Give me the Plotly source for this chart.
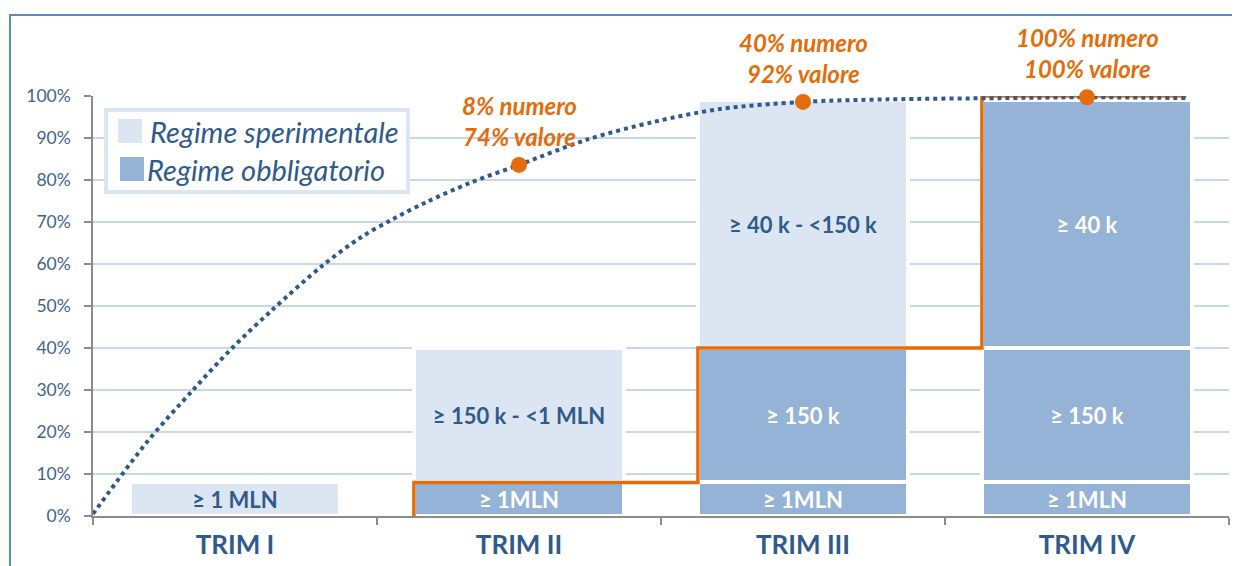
import plotly.graph_objects as go

# ---------------- data ----------------
categories = ["TRIM I", "TRIM II", "TRIM III", "TRIM IV"]

tier_1mln = [8, 8, 8, 8]
tier_150k = [0, 32, 32, 32]
tier_40k = [0, 0, 59, 59]

regime_1mln = ["S", "O", "O", "O"]
regime_150k = ["S", "S", "O", "O"]
regime_40k = ["S", "S", "S", "O"]

text_1mln = ["≥ 1 MLN", "≥ 1MLN", "≥ 1MLN", "≥ 1MLN"]
text_150k = ["", "≥ 150 k - <1 MLN", "≥ 150 k", "≥ 150 k"]
text_40k = ["", "", "≥ 40 k - <150 k", "≥ 40 k"]

# obligatory share level per quarter (orange step)
step_levels = [0, 8, 40, 100]

# dotted curve (value coverage), x in category units
curve_x = [-0.5, -0.31, -0.148, -0.01, 0.13, 0.306, 0.44, 0.556, 0.676, 0.827, 1.0,
           1.239, 1.472, 1.708, 2.0, 2.3, 2.7, 3.0, 3.35]
curve_y = [0.5, 17.6, 30, 40, 49, 59.5, 66.2, 70.7, 74.8, 79.3, 83.6,
           89.6, 93.8, 96.9, 98.6, 99.2, 99.5, 99.7, 99.5]

marker_x = [1, 2, 3]
marker_y = [83.6, 98.6, 99.7]
marker_labels = ["8% numero<br>74% valore", "40% numero<br>92% valore", "100% numero<br>100% valore"]

legend_labels = ["Regime sperimentale", "Regime obbligatorio"]

# ---------------- styles ----------------
LIGHT = "#DCE6F2"
DARK = "#95B3D7"
TXT_DARK = "#2F5A8C"
ORANGE = "#E46C0A"
FONT = "Lato"
BAR_W = 0.74

color_of = {"S": LIGHT, "O": DARK}
txtcol_of = {"S": TXT_DARK, "O": "white"}

xpos = list(range(len(categories)))

fig = go.Figure()

for vals, reg, txt in [(tier_1mln, regime_1mln, text_1mln),
                       (tier_150k, regime_150k, text_150k),
                       (tier_40k, regime_40k, text_40k)]:
    fig.add_trace(go.Bar(
        x=xpos, y=vals, width=BAR_W,
        marker=dict(color=[color_of[r] for r in reg], line=dict(color="white", width=4)),
        text=txt, textposition="inside", insidetextanchor="middle", textangle=0,
        constraintext="none",
        textfont=dict(family=FONT, size=22, color=[txtcol_of[r] for r in reg], weight="bold"),
        showlegend=False, hoverinfo="skip",
    ))

# orange step line built from step levels and bar edges
half = BAR_W / 2
sx, sy = [], []
for i in range(1, len(step_levels)):
    xl = xpos[i] - half
    sx += [xl, xl]
    sy += [step_levels[i - 1], step_levels[i]]
sx.append(xpos[-1] + half - 0.02)
sy.append(step_levels[-1])
fig.add_trace(go.Scatter(x=sx, y=sy, mode="lines", line=dict(color=ORANGE, width=3.5),
                         showlegend=False, hoverinfo="skip", cliponaxis=False))

fig.add_trace(go.Scatter(x=curve_x, y=curve_y, mode="lines",
                         line=dict(color=TXT_DARK, width=4, dash="4px,4px",
                                   shape="spline", smoothing=0.9),
                         showlegend=False, hoverinfo="skip", cliponaxis=False))

fig.add_trace(go.Scatter(x=marker_x, y=marker_y, mode="markers",
                         marker=dict(color=ORANGE, size=16),
                         showlegend=False, hoverinfo="skip", cliponaxis=False))

for mx, my, lab in zip(marker_x, marker_y, marker_labels):
    fig.add_annotation(x=mx, y=my, text=lab, showarrow=False, yanchor="bottom", yshift=12,
                       font=dict(family=FONT, size=24, color=ORANGE, weight="bold", style="italic"))

# geometry (the page body adds an 8px offset)
OFF = 8
W, H = 1232, 558
L, T = 93 - OFF, 96 - OFF
R = W - (1229 - OFF)
B = H - (516 - OFF)
PW, PH = W - L - R, H - T - B
def px(x):
    return (x - OFF - L) / PW
def py(y):
    return (H - B - (y - OFF)) / PH

# outer frame
fig.add_shape(type="rect", xref="paper", yref="paper", x0=px(10), x1=px(1260), y0=py(590), y1=py(15),
              line=dict(color="#5B8AC6", width=2), fillcolor="rgba(0,0,0,0)", layer="below")

# custom legend
fig.add_shape(type="rect", xref="paper", yref="paper", x0=px(106), x1=px(408), y0=py(192), y1=py(110),
              line=dict(color=LIGHT, width=4), fillcolor="white", layer="above")
fig.add_shape(type="rect", xref="paper", yref="paper", x0=px(118), x1=px(142), y0=py(143), y1=py(119),
              line=dict(width=0), fillcolor=LIGHT, layer="above")
fig.add_shape(type="rect", xref="paper", yref="paper", x0=px(120), x1=px(144), y0=py(181), y1=py(157),
              line=dict(width=0), fillcolor=DARK, layer="above")
fig.add_annotation(xref="paper", yref="paper", x=px(148), y=py(131), text=legend_labels[0],
                   showarrow=False, xanchor="left", yanchor="middle",
                   font=dict(family=FONT, size=29, color=TXT_DARK, style="italic"))
fig.add_annotation(xref="paper", yref="paper", x=px(145), y=py(169), text=legend_labels[1],
                   showarrow=False, xanchor="left", yanchor="middle",
                   font=dict(family=FONT, size=29, color=TXT_DARK, style="italic"))

fig.update_layout(
    width=W, height=H,
    margin=dict(l=L, r=R, t=T, b=B, autoexpand=False),
    barmode="stack", bargap=0,
    plot_bgcolor="white", paper_bgcolor="white",
    font=dict(family=FONT),
    showlegend=False,
    xaxis=dict(range=[-0.5, 3.5], tickvals=xpos, ticktext=categories, ticks="",
               tickfont=dict(family=FONT, size=26, color=TXT_DARK, weight="bold"),
               showline=True, linecolor="#8C8C8C", linewidth=1.5, showgrid=False, zeroline=False,
               ticklabelstandoff=5, automargin=False,
               minor=dict(tick0=-0.5, dtick=1, ticks="outside", ticklen=7, tickcolor="#8C8C8C",
                          tickwidth=1.5, showgrid=False)),
    yaxis=dict(range=[0, 100], dtick=10, ticksuffix="%", ticks="outside", ticklen=7,
               tickcolor="#8C8C8C", tickwidth=1.5,
               tickfont=dict(family=FONT, size=17.5, color="#41638F"),
               ticklabelstandoff=10, automargin=False,
               showline=True, linecolor="#8C8C8C", linewidth=1.5,
               showgrid=True, gridcolor="#C6D6EB", gridwidth=1.5, zeroline=False),
)

fig.write_html("out.html")
